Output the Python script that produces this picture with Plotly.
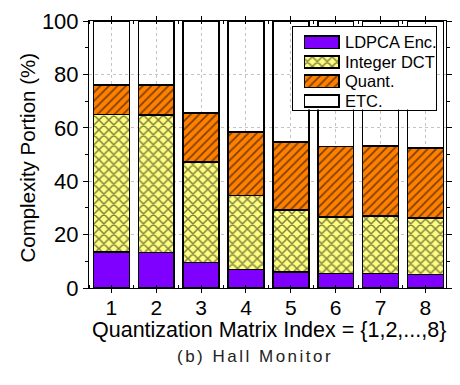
import plotly.graph_objects as go

# Quantization matrix index (x categories)
categories = [1, 2, 3, 4, 5, 6, 7, 8]

# Complexity share of each module, in percent (stacked bottom to top)
ldpca_enc = [13.4, 13.3, 9.6, 6.9, 5.9, 5.4, 5.4, 5.0]
integer_dct = [51.6, 51.4, 37.7, 27.8, 23.3, 21.1, 21.5, 21.3]
quant = [11.0, 11.3, 18.3, 23.7, 25.4, 26.5, 26.2, 26.2]
etc = [24.0, 24.0, 34.4, 41.6, 45.4, 47.0, 46.9, 47.5]

series_names = ["LDPCA Enc.", "Integer DCT", "Quant.", "ETC."]
series_values = [ldpca_enc, integer_dct, quant, etc]

y_ticks = [0, 20, 40, 60, 80, 100]

FONT = "Liberation Sans, Arial, sans-serif"
EDGE = dict(color="black", width=1.6)

series_marker = [
    dict(color="#7F00FF"),
    dict(color="#FFFF80",
         pattern=dict(shape="x", fgcolor="black", size=7, solidity=0.38,
                      fillmode="overlay")),
    dict(color="#FF8000",
         pattern=dict(shape="/", fgcolor="black", size=6, solidity=0.3,
                      fillmode="overlay")),
    dict(color="rgba(0,0,0,0)"),
]

fig = go.Figure()

# stacked columns
for name, vals, mk in zip(series_names, series_values, series_marker):
    fig.add_trace(go.Bar(
        x=categories, y=vals, name=name, width=0.8,
        marker=dict(**mk, line=EDGE), showlegend=False,
    ))

# legend drawn as a small inset subplot with wide swatches
SWATCH_START, SWATCH_LEN = 12, 35     # px inside the legend box
LEGEND_TEXT_X = 0.712                 # paper x of legend labels
for i, (name, mk) in enumerate(zip(series_names, series_marker)):
    fig.add_trace(go.Bar(
        y=[i], x=[SWATCH_LEN], base=[SWATCH_START], orientation="h",
        width=0.62, marker=dict(**mk, line=EDGE),
        xaxis="x2", yaxis="y2", showlegend=False, hoverinfo="skip",
    ))
    fig.add_annotation(
        text=name, x=LEGEND_TEXT_X, xref="paper", y=i, yref="y2",
        xanchor="left", yanchor="middle", showarrow=False,
        font=dict(family=FONT, size=16.5, color="black"),
    )

# axis titles and caption
fig.add_annotation(
    text="Quantization Matrix Index = {1,2,...,8}",
    x=0.503, y=-0.158, xref="paper", yref="paper",
    xanchor="center", yanchor="middle", showarrow=False,
    font=dict(family=FONT, size=21.5, color="black"),
)
fig.add_annotation(
    text="Complexity Portion (%)", textangle=-90,
    x=-0.172, y=0.487, xref="paper", yref="paper",
    xanchor="center", yanchor="middle", showarrow=False,
    font=dict(family=FONT, size=20.5, color="black"),
)
fig.add_annotation(
    text='<span style="letter-spacing:2.5px">(b) Hall Monitor</span>',
    x=0.465, y=-0.258, xref="paper", yref="paper",
    xanchor="center", yanchor="middle", showarrow=False,
    font=dict(family=FONT, size=17, color="#222222"),
)

grid = dict(showgrid=True, gridcolor="#c4c4c4", griddash="dot", gridwidth=1)

fig.update_layout(
    width=460, height=385,
    margin=dict(l=89, r=8, t=21, b=97),
    barmode="stack",
    plot_bgcolor="white", paper_bgcolor="white",
    font=dict(family=FONT, color="black"),
    xaxis=dict(
        range=[0.5, 8.46], tickvals=categories,
        ticks="outside", ticklen=4, tickcolor="black",
        showline=True, linecolor="black", linewidth=1, mirror="allticks",
        zeroline=False, tickfont=dict(size=21), ticklabelstandoff=-3,
        minor=dict(dtick=0.5, tick0=0.5, ticks="inside", ticklen=3,
                   tickcolor="black", showgrid=False),
        **grid,
    ),
    yaxis=dict(
        range=[0, 100], tickvals=y_ticks,
        ticks="outside", ticklen=5, tickcolor="black",
        showline=True, linecolor="black", linewidth=1, mirror="allticks",
        zeroline=False, tickfont=dict(size=22),
        minor=dict(dtick=10, ticks="outside", ticklen=3,
                   tickcolor="black", showgrid=False),
        **grid,
    ),
    xaxis2=dict(
        domain=[0.5702, 0.9725], anchor="y2", range=[0, 146],
        showline=True, mirror=True, linecolor="black", linewidth=1,
        showgrid=False, zeroline=False, showticklabels=False, ticks="",
        fixedrange=True,
    ),
    yaxis2=dict(
        domain=[0.6685, 0.9775], anchor="x2", range=[3.446, -0.785],
        showline=True, mirror=True, linecolor="black", linewidth=1,
        showgrid=False, zeroline=False, showticklabels=False, ticks="",
        fixedrange=True,
    ),
)

fig.write_html("out.html")
